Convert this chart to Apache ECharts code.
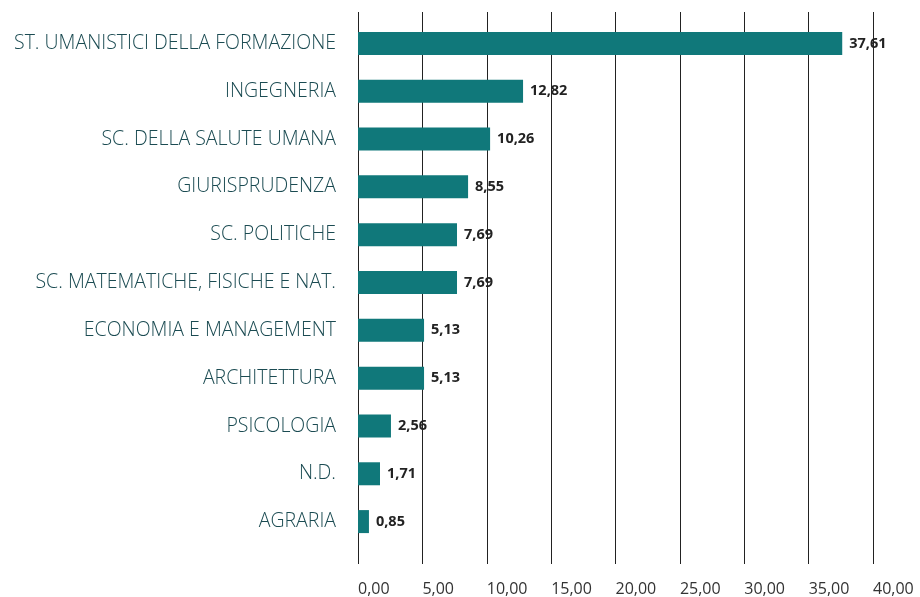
<!DOCTYPE html>
<html>
<head>
<meta charset="utf-8">
<script src="https://cdn.jsdelivr.net/npm/echarts@6/dist/echarts.min.js"></script>
<style>
  html, body { margin: 0; padding: 0; background: #fff; }
  #chart { width: 920px; height: 597px; }
</style>
</head>
<body>
<div id="chart"></div>
<script>
var categories = ['ST. UMANISTICI DELLA FORMAZIONE', 'INGEGNERIA', 'SC. DELLA SALUTE UMANA', 'GIURISPRUDENZA',
    'SC. POLITICHE', 'SC. MATEMATICHE, FISICHE E NAT.', 'ECONOMIA E MANAGEMENT', 'ARCHITETTURA',
    'PSICOLOGIA', 'N.D.', 'AGRARIA']
var values = [37.61, 12.82, 10.26, 8.55, 7.69, 7.69, 5.13, 5.13, 2.56, 1.71, 0.85]

function fmt (v) {
    return v.toFixed(2).replace('.', ',')
}

var chart = echarts.init(document.getElementById('chart'))
var option = {
    animation: false,
    grid: [
        // grid dei gridlines (più alta)
        {left: 358, right: 47, top: 12, bottom: 32},
        // grid delle barre
        {left: 358, right: 47, top: 19.5, bottom: 51.5}
    ],
    xAxis: [{
        gridIndex: 0,
        type: 'value',
        min: 0,
        max: 40,
        interval: 5,
        axisLine: {show: false},
        axisTick: {show: false},
        splitLine: {show: true, lineStyle: {color: '#222', width: 1}},
        axisLabel: {
            margin: 17,
            align: 'left',
            fontFamily: 'Open Sans',
            fontSize: 16,
            color: '#333',
            formatter: function (v) { return fmt(v) }
        }
    }, {
        gridIndex: 1,
        type: 'value',
        min: 0,
        max: 40,
        show: false
    }],
    yAxis: [{
        gridIndex: 0,
        type: 'category',
        data: categories,
        show: false
    }, {
        gridIndex: 1,
        type: 'category',
        data: categories,
        inverse: true,
        axisLine: {show: false},
        axisTick: {show: false},
        axisLabel: {
            margin: 22,
            fontFamily: 'Open Sans',
            fontWeight: 300,
            fontSize: 19.5,
            color: '#1b4b52'
        }
    }],
    series: [{
        type: 'bar',
        xAxisIndex: 1,
        yAxisIndex: 1,
        data: values,
        barWidth: 23,
        itemStyle: {color: '#10787a'},
        label: {
            show: true,
            position: 'right',
            distance: 7,
            fontFamily: 'Open Sans',
            fontWeight: 'bold',
            fontSize: 14.5,
            color: '#222',
            formatter: function (p) { return fmt(p.value) }
        }
    }]
}
chart.setOption(option)
</script>
</body>
</html>
